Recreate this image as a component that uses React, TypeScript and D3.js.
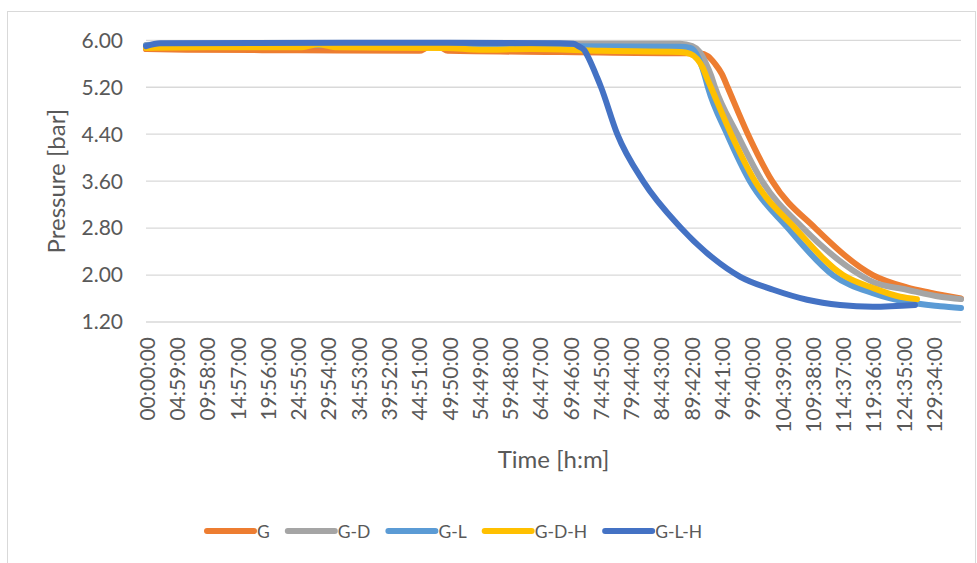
import React from 'react';
import * as d3 from 'd3';

type Pt = [number, number];

// time in minutes, pressure in bar
const seriesNames = ['G', 'G-D', 'G-L', 'G-D-H', 'G-L-H'];
const seriesColors = ['#ED7D31', '#A5A5A5', '#5B9BD5', '#FFC000', '#4472C4'];

const gValues: Pt[] = [
  [0, 5.85], [400, 5.84], [1500, 5.83], [2700, 5.82], [2790, 5.88], [2900, 5.88], [2980, 5.82],
  [4100, 5.8], [5275, 5.78], [5470, 5.78], [5550, 5.73], [5620, 5.6], [5690, 5.42], [5745, 5.2],
  [5945, 4.4], [6185, 3.6], [6610, 2.8], [7180, 2.0], [7515, 1.79], [7745, 1.7], [8050, 1.6]
];
const gdValues: Pt[] = [
  [0, 5.92], [300, 5.94], [2000, 5.94], [4100, 5.94], [5275, 5.94], [5395, 5.9], [5470, 5.8],
  [5530, 5.61], [5580, 5.41], [5620, 5.2], [5840, 4.4], [6085, 3.6], [6490, 2.8], [7055, 2.0],
  [7180, 1.88], [7515, 1.75], [7845, 1.63], [8050, 1.59]
];
const glValues: Pt[] = [
  [0, 5.91], [2000, 5.92], [4100, 5.9], [5275, 5.89], [5375, 5.87], [5435, 5.77], [5480, 5.6],
  [5520, 5.39], [5550, 5.2], [5740, 4.4], [5965, 3.6], [6340, 2.8], [6785, 2.0], [7180, 1.69],
  [7515, 1.54], [7845, 1.47], [8050, 1.44]
];
const gdhValues: Pt[] = [
  [0, 5.87], [600, 5.88], [1520, 5.88], [1700, 5.93], [1890, 5.88], [2970, 5.87], [3300, 5.84],
  [3800, 5.85], [4500, 5.82], [5275, 5.8], [5375, 5.77], [5445, 5.68], [5500, 5.53], [5540, 5.36],
  [5580, 5.2], [5780, 4.4], [6015, 3.6], [6410, 2.8], [6885, 2.0], [7180, 1.78], [7450, 1.63], [7615, 1.59]
];
const glhValues: Pt[] = [
  [0, 5.9], [140, 5.95], [2000, 5.96], [4090, 5.95], [4220, 5.94], [4270, 5.9], [4330, 5.83],
  [4365, 5.72], [4455, 5.37], [4495, 5.2], [4655, 4.4], [4910, 3.6], [5275, 2.82], [5600, 2.29],
  [5870, 1.97], [6195, 1.75], [6530, 1.58], [6855, 1.49], [7180, 1.46], [7595, 1.49]
];

const yTicks = [1.2, 2.0, 2.8, 3.6, 4.4, 5.2, 6.0];
const xTickLabels = [
  '00:00:00', '04:59:00', '09:58:00', '14:57:00', '19:56:00', '24:55:00', '29:54:00',
  '34:53:00', '39:52:00', '44:51:00', '49:50:00', '54:49:00', '59:48:00', '64:47:00',
  '69:46:00', '74:45:00', '79:44:00', '84:43:00', '89:42:00', '94:41:00', '99:40:00',
  '104:39:00', '109:38:00', '114:37:00', '119:36:00', '124:35:00', '129:34:00'
];
const totalMinutes = 8050;

const toMinutes = (s: string) => {
  const [h, m] = s.split(':').map(Number);
  return h * 60 + m;
};

const PressureChart = () => {
  const ref = React.useRef<SVGSVGElement>(null);

  React.useEffect(() => {
    const svg = d3.select(ref.current);
    svg.selectAll('*').remove();

    const font = "Lato, 'Open Sans', sans-serif";
    const textColor = '#595959';
    const plot = { left: 146, right: 961, top: 40.3, bottom: 322 };

    const x = d3.scaleLinear().domain([0, totalMinutes]).range([plot.left, plot.right]);
    const y = d3.scaleLinear().domain([1.2, 6.0]).range([plot.bottom, plot.top]);

    // chart frame
    svg.append('rect')
      .attr('x', 7.5).attr('y', 11.5)
      .attr('width', 968).attr('height', 560)
      .attr('fill', '#fff')
      .attr('stroke', '#d9d9d9');

    // gridlines
    svg.append('g')
      .selectAll('line')
      .data(yTicks)
      .enter()
      .append('line')
      .attr('x1', plot.left).attr('x2', plot.right)
      .attr('y1', d => y(d)).attr('y2', d => y(d))
      .attr('stroke', '#d9d9d9')
      .attr('stroke-width', 1.3);

    // y tick labels
    svg.append('g')
      .selectAll('text')
      .data(yTicks)
      .enter()
      .append('text')
      .attr('x', 123)
      .attr('y', d => y(d))
      .attr('dy', '0.35em')
      .attr('text-anchor', 'end')
      .style('font-family', font)
      .style('font-size', '21px')
      .style('fill', textColor)
      .text(d => d.toFixed(2));

    // x tick labels (rotated)
    svg.append('g')
      .selectAll('text')
      .data(xTickLabels)
      .enter()
      .append('text')
      .attr('transform', d => `translate(${x(toMinutes(d)) + 1.5}, 337) rotate(-90)`)
      .attr('dy', '0.35em')
      .attr('text-anchor', 'end')
      .style('font-family', font)
      .style('font-size', '21px')
      .style('fill', textColor)
      .text(d => d);

    // axis titles
    svg.append('text')
      .attr('x', (plot.left + plot.right) / 2)
      .attr('y', 468)
      .attr('text-anchor', 'middle')
      .style('font-family', font)
      .style('font-size', '24px')
      .style('fill', textColor)
      .text('Time [h:m]');

    svg.append('text')
      .attr('transform', `translate(65, ${(plot.top + plot.bottom) / 2}) rotate(-90)`)
      .attr('text-anchor', 'middle')
      .style('font-family', font)
      .style('font-size', '24px')
      .style('fill', textColor)
      .text('Pressure [bar]');

    // lines
    const allSeries = [gValues, gdValues, glValues, gdhValues, glhValues];
    const line = d3.line<Pt>()
      .x(d => x(d[0]))
      .y(d => y(d[1]))
      .curve(d3.curveMonotoneX);

    svg.append('g')
      .selectAll('path')
      .data(allSeries)
      .enter()
      .append('path')
      .attr('d', d => line(d))
      .attr('fill', 'none')
      .attr('stroke', (d, i) => seriesColors[i])
      .attr('stroke-width', 6)
      .attr('stroke-linecap', 'round')
      .attr('stroke-linejoin', 'round');

    // legend
    const legend = svg.append('g');
    let lx = 207;
    seriesNames.forEach((name, i) => {
      legend.append('line')
        .attr('x1', lx).attr('x2', lx + 47)
        .attr('y1', 531).attr('y2', 531)
        .attr('stroke', seriesColors[i])
        .attr('stroke-width', 6)
        .attr('stroke-linecap', 'round');
      const t = legend.append('text')
        .attr('x', lx + 50)
        .attr('y', 537.5)
        .style('font-family', font)
        .style('font-size', '17.5px')
        .style('fill', textColor)
        .text(name);
      const w = (t.node() as SVGTextElement).getComputedTextLength();
      lx = lx + 50 + w + 18;
    });
  }, []);

  return (
    <svg
      ref={ref}
      width={977}
      height={563}
      style={{ position: 'absolute', left: 0, top: 0, background: '#fff' }}
    />
  );
};

export default function App() {
  return <PressureChart />;
}
